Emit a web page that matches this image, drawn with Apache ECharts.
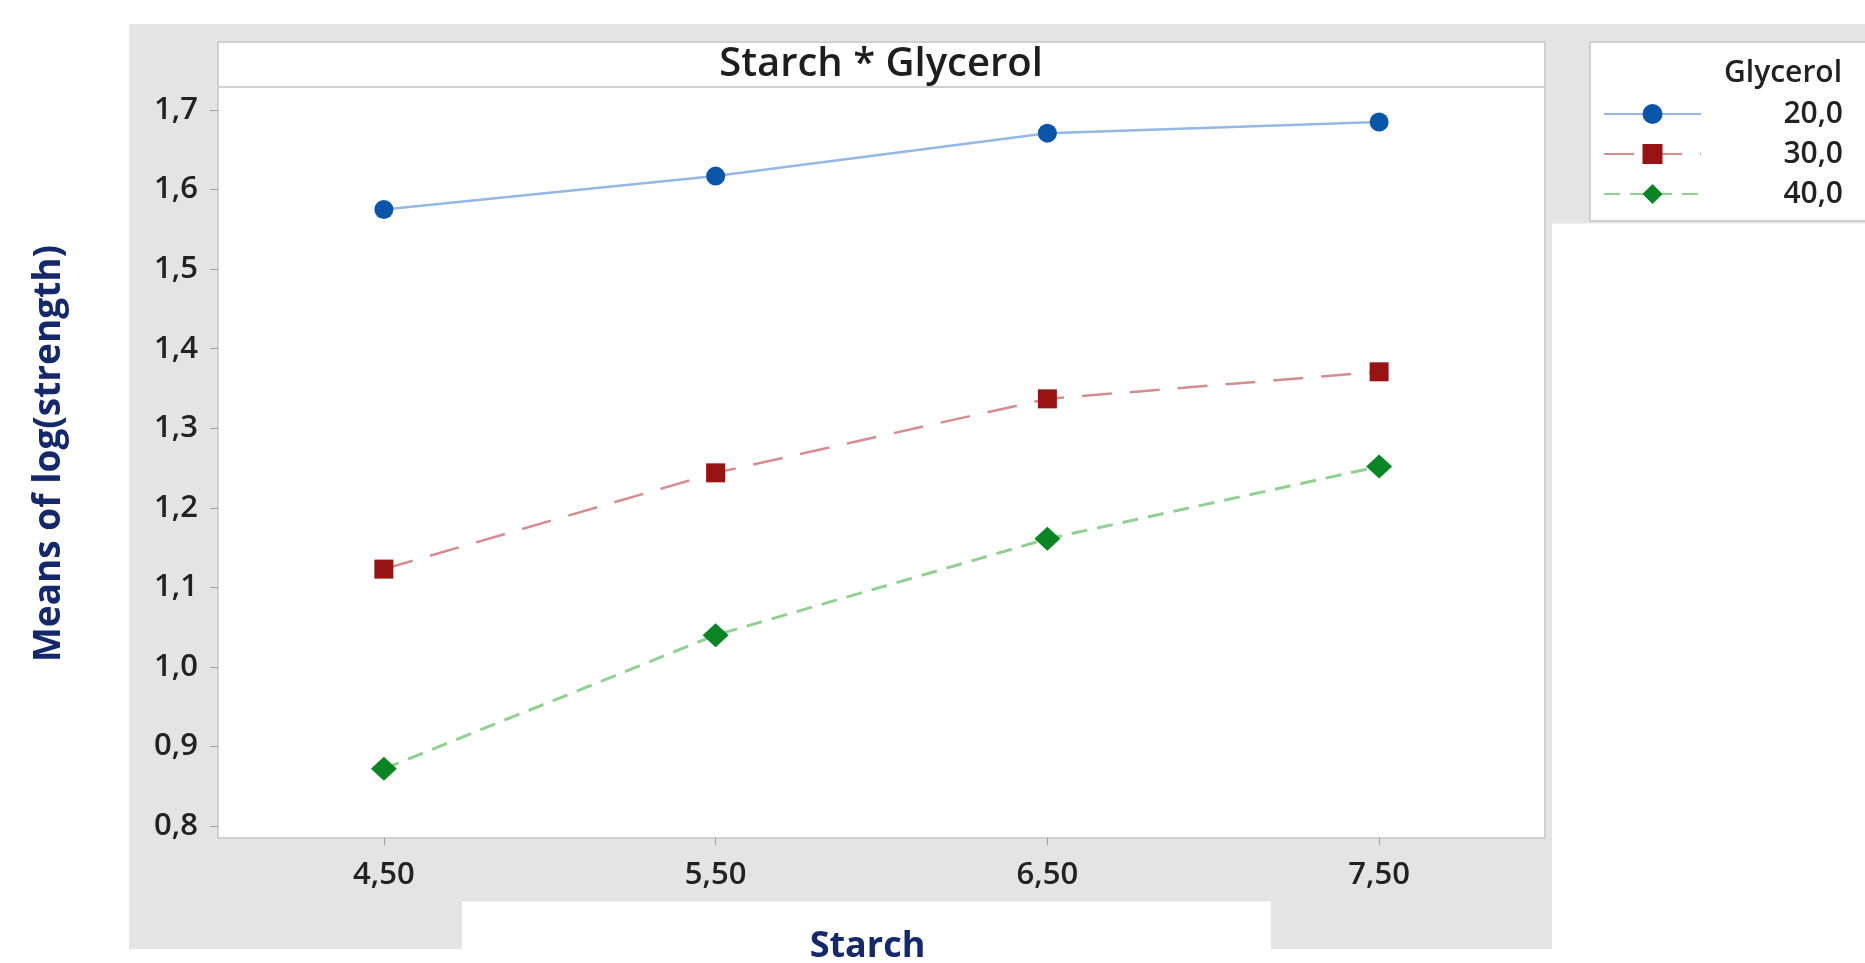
<!DOCTYPE html>
<html>
<head>
<meta charset="utf-8">
<script src="https://cdn.jsdelivr.net/npm/echarts@6/dist/echarts.min.js"></script>
<style>
  html, body { margin: 0; padding: 0; background: #ffffff; }
  #chart { width: 1865px; height: 963px; }
</style>
</head>
<body>
<div id="chart"></div>
<script>
// Interaction plot: mean log(strength) by starch level, one line per glycerol level
const starchLevels = ['4,50', '5,50', '6,50', '7,50'];
const glycerolLevels = ['20,0', '30,0', '40,0'];
const meansGlycerol20 = [1.575, 1.617, 1.671, 1.685];
const meansGlycerol30 = [1.123, 1.244, 1.337, 1.371];
const meansGlycerol40 = [0.872, 1.040, 1.161, 1.252];
const yTickValues = [0.8, 0.9, 1.0, 1.1, 1.2, 1.3, 1.4, 1.5, 1.6, 1.7];

const FONT = '"Open Sans", "Noto Sans", sans-serif';
const GRAY_BG = '#e4e4e4';
const BORDER = '#d0d0d0';
const NAVY = '#15296a';
const TEXT = '#222222';

const commaDecimal = v => v.toFixed(1).replace('.', ',');

const chart = echarts.init(document.getElementById('chart'), null, { renderer: 'canvas' });

chart.setOption({
  backgroundColor: '#ffffff',
  animation: false,
  title: {
    text: 'Starch * Glycerol',
    left: 881,
    top: 45,
    textAlign: 'center',
    padding: 0,
    textStyle: { fontFamily: FONT, fontSize: 40, fontWeight: 600, color: '#1e1e1e' }
  },
  legend: {
    orient: 'vertical',
    left: 1603,
    top: 99,
    padding: 0,
    itemWidth: 97,
    itemHeight: 25,
    itemGap: 10,
    data: glycerolLevels,
    formatter: '{v|{name}}',
    textStyle: {
      fontFamily: FONT,
      fontSize: 30,
      fontWeight: 600,
      color: TEXT,
      rich: { v: { width: 137, align: 'right', lineHeight: 30, fontFamily: FONT, fontSize: 30, fontWeight: 600, color: TEXT } }
    }
  },
  grid: {
    left: 218,
    top: 87,
    width: 1327,
    height: 751,
    show: true,
    backgroundColor: '#ffffff',
    borderColor: BORDER,
    borderWidth: 2,
    containLabel: false,
    outerBoundsMode: 'none'
  },
  xAxis: {
    type: 'category',
    data: starchLevels,
    boundaryGap: true,
    name: 'Starch',
    nameLocation: 'middle',
    nameGap: 91,
    nameTextStyle: { fontFamily: FONT, fontSize: 36, fontWeight: 700, color: NAVY, padding: [0, 28, 0, 0] },
    axisLine: { show: false },
    axisTick: { show: true, alignWithLabel: true, length: 7, lineStyle: { color: '#a0a0a0', width: 1 } },
    axisLabel: { margin: 22, fontFamily: FONT, fontSize: 31, fontWeight: 600, color: TEXT },
    splitLine: { show: false }
  },
  yAxis: {
    type: 'value',
    min: 0.785,
    max: 1.729,
    name: 'Means of log(strength)',
    nameLocation: 'middle',
    nameRotate: 90,
    nameGap: 150,
    nameTextStyle: { fontFamily: FONT, fontSize: 37, fontWeight: 700, color: NAVY, padding: [0, 0, 0, 18] },
    axisLine: { show: false },
    axisTick: { show: true, customValues: yTickValues, length: 8, lineStyle: { color: '#a0a0a0', width: 1 } },
    axisLabel: { customValues: yTickValues, formatter: commaDecimal, margin: 20, fontFamily: FONT, fontSize: 31, fontWeight: 600, color: TEXT },
    splitLine: { show: false }
  },
  series: [
    {
      name: glycerolLevels[0],
      type: 'line',
      data: meansGlycerol20,
      symbol: 'circle',
      symbolSize: 19,
      itemStyle: { color: '#0b55a8' },
      lineStyle: { color: '#94b8e4', width: 2.5, type: 'solid' },
      z: 3
    },
    {
      name: glycerolLevels[1],
      type: 'line',
      data: meansGlycerol30,
      symbol: 'rect',
      symbolSize: 19,
      itemStyle: { color: '#981414' },
      lineStyle: { color: '#d68c8e', width: 2.5, type: [30, 18] },
      z: 3
    },
    {
      name: glycerolLevels[2],
      type: 'line',
      data: meansGlycerol40,
      symbol: 'diamond',
      symbolSize: [26, 24],
      itemStyle: { color: '#0b8425' },
      lineStyle: { color: '#90d090', width: 3, type: [16, 10] },
      z: 3
    }
  ],
  graphic: [
    {
      // gray frame around plot and legend, open below the x-axis title
      type: 'polygon',
      z: -10,
      silent: true,
      shape: {
        points: [
          [129, 24], [1865, 24], [1865, 223.5], [1552, 223.5], [1552, 949],
          [1271, 949], [1271, 901.5], [462, 901.5], [462, 949], [129, 949]
        ]
      },
      style: { fill: GRAY_BG }
    },
    {
      // title strip above the data area
      type: 'rect',
      z: -5,
      silent: true,
      shape: { x: 218, y: 42, width: 1327, height: 45 },
      style: { fill: '#ffffff', stroke: BORDER, lineWidth: 2 }
    },
    {
      // legend panel
      type: 'rect',
      z: -5,
      silent: true,
      shape: { x: 1590, y: 42, width: 300, height: 179 },
      style: { fill: '#ffffff', stroke: BORDER, lineWidth: 2 }
    },
    {
      type: 'text',
      z: 5,
      silent: true,
      x: 1842,
      y: 73,
      style: {
        text: 'Glycerol',
        align: 'right',
        verticalAlign: 'middle',
        fontFamily: FONT,
        fontSize: 30,
        fontWeight: 600,
        fill: TEXT
      }
    }
  ]
});
</script>
</body>
</html>
